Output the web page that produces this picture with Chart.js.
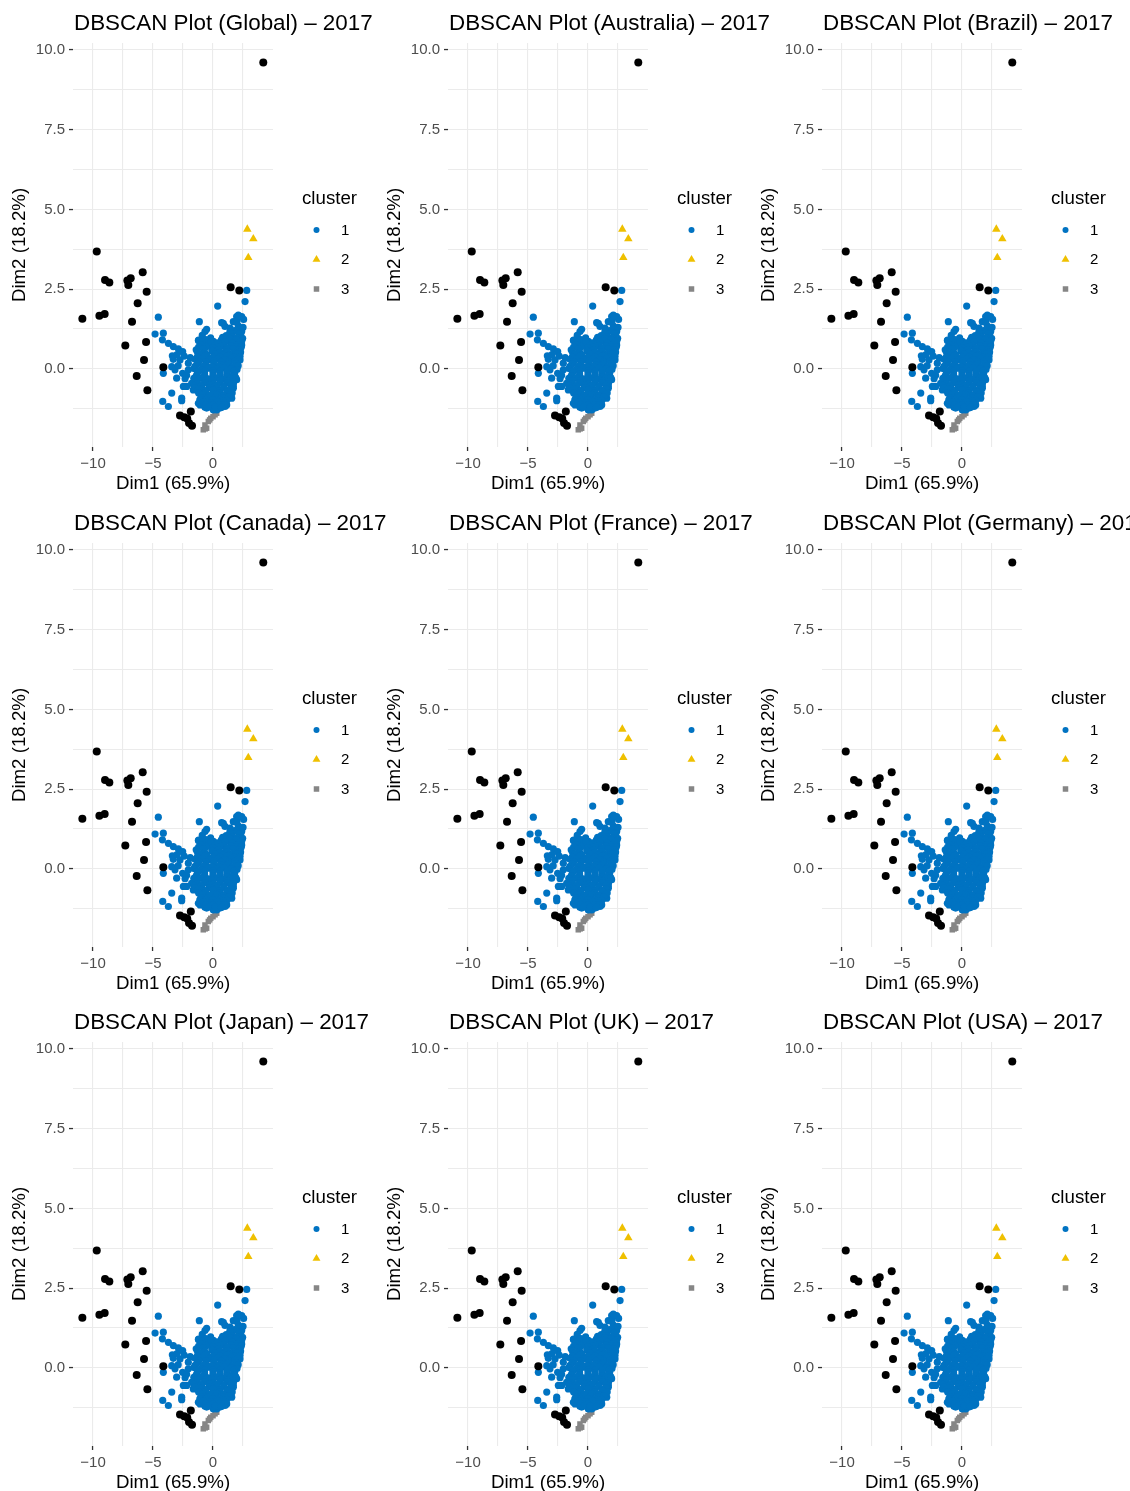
<!DOCTYPE html>
<html>
<head>
<meta charset="utf-8">
<script src="https://cdn.jsdelivr.net/npm/chart.js@4.4.1/dist/chart.umd.min.js"></script>
<style>
  html, body { margin: 0; padding: 0; background: #fff; overflow: hidden; }
  #wrap { position: relative; width: 1130px; height: 1491px; overflow: hidden; background: #fff; }
  .panel { position: absolute; }
</style>
</head>
<body>
<div id="wrap"></div>
<script>
const regions = ['Global', 'Australia', 'Brazil', 'Canada', 'France', 'Germany', 'Japan', 'UK', 'USA'];
const year = 2017;
const xLabel = 'Dim1 (65.9%)';
const yLabel = 'Dim2 (18.2%)';
const clusterNames = ['1', '2', '3'];

// noise points (not assigned to a cluster)
const noise = [
  [4.19, 9.61], [-9.69, 3.68], [-9.0, 2.79], [-8.64, 2.71], [-7.14, 2.77], [-6.86, 2.84],
  [-7.06, 2.63], [-5.86, 3.03], [-5.53, 2.42], [-6.28, 2.06], [-10.89, 1.57], [-9.47, 1.67],
  [-9.03, 1.72], [-6.75, 1.48], [-7.31, 0.73], [-5.58, 0.84], [-5.75, 0.28], [-4.14, 0.05],
  [-6.36, -0.22], [-5.47, -0.67], [1.47, 2.56], [2.19, 2.46],
  [-2.75, -1.46], [-2.4, -1.52], [-2.15, -1.56], [-1.85, -1.34], [-2.0, -1.7], [-1.75, -1.78]
];

const cluster1 = [
  // left arm and outer points
  [-4.56, 1.62], [-4.83, 1.09], [-4.14, 1.12], [-4.22, 0.91], [-3.72, 0.80], [-3.31, 0.70],
  [-2.89, 0.63], [-2.53, 0.54], [-3.39, 0.41], [-2.75, 0.28], [-3.31, 0.30], [-2.06, 0.18],
  [-3.44, 0.07], [-3.17, -0.03], [-4.14, -0.14], [-2.53, -0.14], [-3.03, -0.29], [-2.33, -0.31],
  [-2.06, -0.03], [-2.19, -0.55], [-1.78, -0.45], [-2.47, -0.55], [-3.44, -0.76], [-2.61, -0.92],
  [-2.61, -1.0], [-4.19, -1.02], [-3.72, -1.18], [-1.08, -1.13], [-0.67, -1.2], [-1.22, -1.08],
  [-1.64, -0.66], [-2.9, 0.1], [-2.4, 0.4], [-3.0, 0.45], [-2.2, -0.2], [-1.9, 0.35],
  [-1.14, 1.48], [-0.53, 1.24], [-0.67, 1.17], [-1.22, 0.89], [-0.53, 0.82], [0.03, 0.86],
  [0.39, 1.97], [0.72, 1.45], [0.86, 1.43], [1.0, 1.33], [1.42, 1.28], [1.69, 1.48],
  [1.97, 1.64], [2.39, 1.64], [2.11, 1.69], [2.67, 2.11], [2.81, 2.46], [2.25, 1.22],
  [2.39, 1.17], [2.3, 1.0], [2.39, 0.75], [2.47, 0.96], [2.25, 0.49], [2.25, 0.28],
  [2.03, 0.65], [1.83, 0.33], [1.97, 0.07], [1.83, -0.24], [1.97, -0.34], [1.69, -0.55],
  [1.69, -0.61], [1.56, -0.92], [1.42, -0.87], [1.14, -1.13], [1.0, -1.18], [0.58, -1.23],
  [0.31, -1.29], [0.03, -1.29], [-0.53, -1.23], [-0.53, -1.18],
  // right arm
  [1.8, 1.2], [2.1, 1.35], [2.0, 1.5], [1.6, 1.1], [1.3, 1.0], [2.2, 1.1], [1.9, 0.95],
  [2.5, 1.3], [2.55, 1.55], [2.2, 1.65], [1.4, 1.15], [2.1, 0.85], [1.7, 0.85],
  // dense core
  [-0.9, 1.05], [1.1, 1.04], [1.6, 1.0], [2.3, 1.08],
  [-0.2, 0.97], [0.8, 0.99], [1.4, 0.95], [2.0, 0.98],
  [-1.2, 0.9], [-0.6, 0.92], [0.7, 0.91], [1.3, 0.87], [1.95, 0.92], [2.4, 0.88],
  [-0.9, 0.83], [-0.2, 0.84], [0.4, 0.82], [1.0, 0.85], [1.6, 0.81], [2.2, 0.83],
  [-1.0, 0.76], [-0.4, 0.73], [0.3, 0.77], [0.9, 0.74], [1.5, 0.72], [2.1, 0.76],
  [-1.2, 0.68], [-0.6, 0.69], [0.0, 0.67], [0.6, 0.7], [1.2, 0.66], [1.9, 0.69], [2.35, 0.68],
  [-1.4, 0.6], [-0.8, 0.62], [-0.1, 0.58], [0.5, 0.61], [1.1, 0.59], [1.7, 0.63], [2.2, 0.6],
  [-1.3, 0.53], [-0.7, 0.52], [0.0, 0.55], [0.6, 0.52], [1.2, 0.54], [1.8, 0.51], [2.3, 0.53],
  [-1.1, 0.46], [-0.5, 0.44], [0.2, 0.47], [0.8, 0.43], [1.4, 0.45], [2.0, 0.46],
  [-1.3, 0.38], [-0.7, 0.39], [0.0, 0.37], [0.6, 0.38], [1.2, 0.4], [1.8, 0.37], [2.25, 0.39],
  [-1.5, 0.3], [-0.9, 0.32], [-0.3, 0.28], [0.4, 0.31], [1.0, 0.29], [1.6, 0.33], [2.1, 0.3],
  [-1.2, 0.23], [-0.6, 0.22], [0.1, 0.24], [0.7, 0.22], [1.3, 0.23], [1.85, 0.24],
  [-1.3, 0.16], [-0.6, 0.14], [0.1, 0.17], [0.7, 0.13], [1.3, 0.15], [1.9, 0.16],
  [-1.5, 0.08], [-0.8, 0.09], [-0.1, 0.07], [0.5, 0.08], [1.1, 0.09], [1.7, 0.07], [2.1, 0.1],
  [-1.6, 0.01], [-1.0, -0.02], [-0.4, 0.02], [0.3, -0.01], [0.9, 0.03], [1.5, 0.0], [2.0, -0.02],
  [-1.3, -0.07], [-0.7, -0.08], [0.0, -0.06], [0.6, -0.07], [1.2, -0.08], [1.75, -0.06],
  [-1.3, -0.14], [-0.7, -0.16], [0.0, -0.13], [0.6, -0.15], [1.2, -0.17], [1.8, -0.14],
  [-1.4, -0.22], [-0.7, -0.23], [0.0, -0.21], [0.6, -0.22], [1.2, -0.24], [1.7, -0.21],
  [-1.6, -0.3], [-1.0, -0.28], [-0.4, -0.31], [0.3, -0.29], [0.9, -0.32], [1.5, -0.3], [1.9, -0.28],
  [-1.3, -0.37], [-0.7, -0.38], [0.0, -0.36], [0.6, -0.37], [1.2, -0.38], [1.75, -0.39],
  [-1.3, -0.46], [-0.7, -0.44], [0.0, -0.47], [0.6, -0.45], [1.2, -0.43], [1.7, -0.46],
  [-1.6, -0.52], [-1.0, -0.53], [-0.3, -0.51], [0.3, -0.52], [0.9, -0.54], [1.5, -0.52],
  [-1.5, -0.6], [-0.9, -0.62], [-0.3, -0.59], [0.3, -0.61], [0.9, -0.58], [1.5, -0.63],
  [-1.3, -0.67], [-0.6, -0.68], [0.0, -0.66], [0.6, -0.68], [1.2, -0.67],
  [-1.2, -0.76], [-0.6, -0.74], [0.0, -0.77], [0.6, -0.75], [1.2, -0.73], [1.6, -0.76],
  [-0.9, -0.82], [-0.3, -0.83], [0.3, -0.81], [0.9, -0.84], [1.45, -0.8],
  [-1.0, -0.9], [-0.4, -0.92], [0.2, -0.89], [0.8, -0.91], [1.3, -0.88],
  [-1.1, -0.97], [-0.6, -0.98], [0.0, -0.96], [0.6, -0.97], [1.15, -0.99],
  [-0.8, -1.04], [-0.2, -1.06], [0.4, -1.03], [1.0, -1.05],
  [-0.6, -1.12], [0.0, -1.13], [0.5, -1.11], [0.95, -1.12],
  [-0.4, -1.2], [0.2, -1.19], [0.7, -1.21]
];

const cluster2 = [[2.86, 4.38], [3.36, 4.08], [2.94, 3.49]];

const cluster3 = [
  [-0.81, -1.91], [-0.65, -1.88], [-0.53, -1.86], [-0.67, -1.76], [-0.39, -1.65],
  [-0.28, -1.6], [-0.19, -1.55], [0.0, -1.5], [0.17, -1.44], [0.31, -1.39]
];

const xTicks = [-10, -7.5, -5, -2.5, 0, 2.5];
const xTickLabels = ['\u221210', '', '\u22125', '', '0', ''];
const yTicks = [-1.25, 0, 1.25, 2.5, 3.75, 5, 6.25, 7.5, 8.75, 10];
const yTickLabels = ['', '0.0', '', '2.5', '', '5.0', '', '7.5', '', '10.0'];

const colors = { noise: '#000000', c1: '#0073C2', c2: '#EFC000', c3: '#868686' };
const FONT = '"Liberation Sans", Arial, Helvetica, sans-serif';

// panel canvas is wider than its column so long titles can spill over
const W = 440, H = 499;
const colLeft = [0, 375, 749];
const rowTop = [0, 500, 999];
const plotLeft = 73, plotRight = 273, plotTop = 43, plotBottom = 447;

const toXY = arr => arr.map(p => ({ x: p[0], y: p[1] }));

// draws the panel title and the cluster legend
const panelDecor = {
  id: 'panelDecor',
  afterDraw(chart, args, opts) {
    const ctx = chart.ctx;
    ctx.save();
    ctx.fillStyle = '#000';
    ctx.textAlign = 'left';
    ctx.textBaseline = 'alphabetic';
    ctx.font = '22.4px ' + FONT;
    ctx.fillText(opts.title, 74, 30);

    ctx.font = '18.7px ' + FONT;
    ctx.fillText('cluster', 302, 204);

    const keys = [
      { style: 'circle', r: 3, color: colors.c1, y: 230 },
      { style: 'triangle', r: 4.6, color: colors.c2, y: 259.5 },
      { style: 'rect', r: 3.9, color: colors.c3, y: 289 }
    ];
    ctx.font = '15px ' + FONT;
    ctx.textBaseline = 'middle';
    keys.forEach((k, i) => {
      ctx.fillStyle = k.color;
      Chart.helpers.drawPoint(ctx, { pointStyle: k.style, radius: k.r, borderWidth: 0, rotation: 0 }, 316.5, k.y);
      ctx.fillStyle = '#000';
      ctx.fillText(clusterNames[i], 341, k.y + 0.5);
    });
    ctx.restore();
  }
};

const wrap = document.getElementById('wrap');

regions.forEach((region, i) => {
  const div = document.createElement('div');
  div.className = 'panel';
  div.style.left = colLeft[i % 3] + 'px';
  div.style.top = rowTop[Math.floor(i / 3)] + 'px';
  div.style.width = W + 'px';
  div.style.height = H + 'px';
  const canvas = document.createElement('canvas');
  canvas.width = W;
  canvas.height = H;
  div.appendChild(canvas);
  wrap.appendChild(div);

  new Chart(canvas, {
    type: 'scatter',
    data: {
      datasets: [
        { label: 'noise', data: toXY(noise), pointStyle: 'circle', pointRadius: 4, backgroundColor: colors.noise, borderWidth: 0 },
        { label: '1', data: toXY(cluster1), pointStyle: 'circle', pointRadius: 3.6, backgroundColor: colors.c1, borderWidth: 0 },
        { label: '2', data: toXY(cluster2), pointStyle: 'triangle', pointRadius: 4.9, backgroundColor: colors.c2, borderWidth: 0 },
        { label: '3', data: toXY(cluster3), pointStyle: 'rect', pointRadius: 3.9, backgroundColor: colors.c3, borderWidth: 0 }
      ]
    },
    options: {
      responsive: false,
      maintainAspectRatio: false,
      animation: false,
      layout: { padding: { top: plotTop, right: W - plotRight, bottom: 0, left: 0 } },
      plugins: {
        legend: { display: false },
        tooltip: { enabled: false },
        panelDecor: { title: 'DBSCAN Plot (' + region + ') \u2013 ' + year }
      },
      scales: {
        x: {
          type: 'linear',
          min: -11.67,
          max: 5.0,
          afterBuildTicks: s => { s.ticks = xTicks.map(v => ({ value: v })); },
          afterFit: s => { s.height = H - plotBottom; },
          ticks: {
            autoSkip: false,
            maxRotation: 0,
            padding: 4,
            color: '#4D4D4D',
            font: { family: FONT, size: 15 },
            callback: (v, idx) => xTickLabels[idx]
          },
          grid: {
            color: '#EBEBEB',
            lineWidth: 1.1,
            tickLength: 4,
            tickWidth: 1.3,
            tickColor: c => (xTickLabels[c.index] ? '#333333' : 'rgba(0,0,0,0)')
          },
          border: { display: false },
          title: {
            display: true,
            text: xLabel,
            color: '#000',
            font: { family: FONT, size: 18.7 },
            padding: { top: 0, bottom: 3.8 }
          }
        },
        y: {
          type: 'linear',
          min: -2.45,
          max: 10.22,
          afterBuildTicks: s => { s.ticks = yTicks.map(v => ({ value: v })); },
          afterFit: s => { s.width = plotLeft; },
          ticks: {
            autoSkip: false,
            padding: 4,
            color: '#4D4D4D',
            font: { family: FONT, size: 15 },
            callback: (v, idx) => yTickLabels[idx]
          },
          grid: {
            color: '#EBEBEB',
            lineWidth: 1.1,
            tickLength: 4,
            tickWidth: 1.3,
            tickColor: c => (yTickLabels[c.index] ? '#333333' : 'rgba(0,0,0,0)')
          },
          border: { display: false },
          title: {
            display: true,
            text: yLabel,
            color: '#000',
            font: { family: FONT, size: 18.7 },
            padding: { top: 8.8, bottom: 0 }
          }
        }
      }
    },
    plugins: [panelDecor]
  });
});
</script>
</body>
</html>
